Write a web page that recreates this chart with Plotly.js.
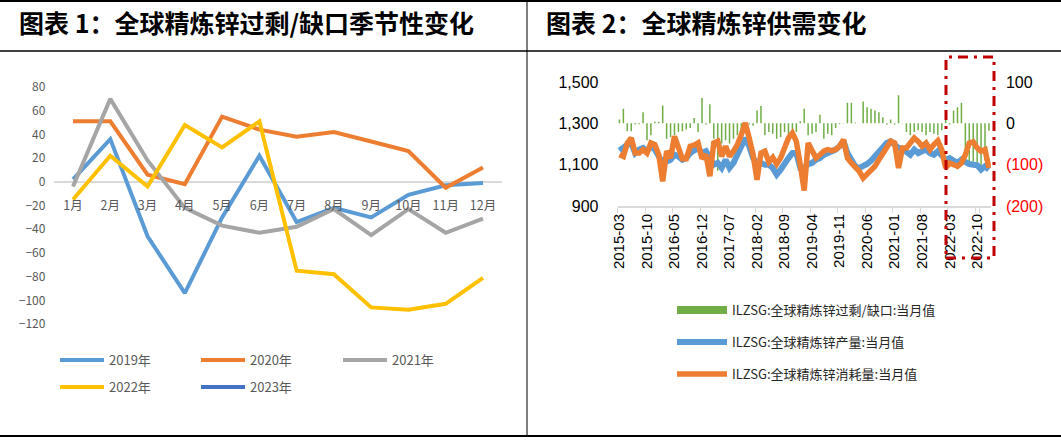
<!DOCTYPE html>
<html>
<head>
<meta charset="utf-8">
<script src="https://cdn.plot.ly/plotly-3.0.1.min.js"></script>
<style>html,body{margin:0;padding:0;background:#fff}</style>
</head>
<body>
<div id="chart" style="width:1061px;height:440px"></div>
<script>
// ---------- Chart 1: monthly surplus/deficit by year ----------
const months = ['1月','2月','3月','4月','5月','6月','7月','8月','9月','10月','11月','12月'];
const y2019 = [2, 36, -46, -94, -30, 22, -34, -22, -30, -11, -3, -1];
const y2020 = [51, 51, 6, -2, 55, 44, 38, 42, 34, 26, -5, 12];
const y2021 = [-4, 70, 18, -22, -37, -43, -38, -23, -45, -23, -43, -31];
const y2022 = [-15, 22, -4, 48, 29, 51, -75, -78, -106, -108, -103, -81];
const y2023 = [null, null, null, null, null, null, null, null, null, null, null, null];
const seasonNames = ['2019年','2020年','2021年','2022年','2023年'];
const seasonColors = ['#5B9BD5','#ED7D31','#A5A5A5','#FFC000','#4472C4'];

// ---------- Chart 2: monthly supply / demand ----------
const periods = [
  '2015-03','2015-04','2015-05','2015-06','2015-07','2015-08','2015-09','2015-10','2015-11','2015-12',
  '2016-01','2016-02','2016-03','2016-04','2016-05','2016-06','2016-07','2016-08','2016-09','2016-10','2016-11','2016-12',
  '2017-01','2017-02','2017-03','2017-04','2017-05','2017-06','2017-07','2017-08','2017-09','2017-10','2017-11','2017-12',
  '2018-01','2018-02','2018-03','2018-04','2018-05','2018-06','2018-07','2018-08','2018-09','2018-10','2018-11','2018-12',
  '2019-01','2019-02','2019-03','2019-04','2019-05','2019-06','2019-07','2019-08','2019-09','2019-10','2019-11','2019-12',
  '2020-01','2020-02','2020-03','2020-04','2020-05','2020-06','2020-07','2020-08','2020-09','2020-10','2020-11','2020-12',
  '2021-01','2021-02','2021-03','2021-04','2021-05','2021-06','2021-07','2021-08','2021-09','2021-10','2021-11','2021-12',
  '2022-01','2022-02','2022-03','2022-04','2022-05','2022-06','2022-07','2022-08','2022-09','2022-10','2022-11','2022-12',
  '2023-01'
];
const balance = [
  9, 35, -19, -19, -3, -2, 27, -41, -29, 4,
  4, 43, -37, -33, -29, -21, -19, -15, -11, 13, -21, 61,
  -3, 46, -37, -115, -49, -41, -49, -37, -29, -21, -2, -3,
  -6, 31, 42, -29, -21, -25, -37, -33, -21, -37, -25, -21,
  5, 35, -29, -25, -21, 21, -37, -25, -29, -11, -2, 1,
  50, 50, 2, 0, 53, 39, 35, 31, 27, 15, -3, 9,
  -3, 68, 1, -21, -29, -21, -17, -21, -29, -21, -25, -29,
  -17, 19, -3, 31, 39, 50, -85, -102, -94, -98, -102, -90,
  -18
];
const production = [
  1168, 1184, 1197, 1205, 1156, 1173, 1181, 1165, 1189, 1173,
  1140, 1108, 1116, 1124, 1148, 1140, 1124, 1132, 1156, 1165, 1181, 1156,
  1165, 1132, 1100, 1108, 1084, 1124, 1084, 1108, 1148, 1189, 1229, 1189,
  1132, 1108, 1108, 1100, 1100, 1084, 1052, 1076, 1108, 1132, 1156, 1156,
  1084, 1084, 1103, 1108, 1124, 1132, 1148, 1156, 1165, 1173, 1189, 1213,
  1156, 1116, 1092, 1084, 1092, 1103, 1119, 1140, 1156, 1177, 1205, 1213,
  1197, 1181, 1177, 1165, 1148, 1173, 1156, 1165, 1173, 1156, 1148, 1165,
  1148, 1124, 1132, 1116, 1108, 1124, 1113, 1103, 1100, 1097, 1076, 1092,
  1076
];
const consumption = [
  1148, 1140, 1205, 1229, 1156, 1156, 1173, 1156, 1205, 1197,
  1148, 1019, 1165, 1132, 1237, 1189, 1129, 1129, 1189, 1194, 1205, 1129,
  1148, 1044, 1205, 1213, 1140, 1189, 1140, 1165, 1197, 1245, 1302, 1229,
  1148, 1027, 1156, 1165, 1113, 1135, 1103, 1132, 1181, 1229, 1253, 1213,
  1100, 975, 1205, 1165, 1132, 1148, 1165, 1173, 1168, 1173, 1189, 1221,
  1132, 1108, 1092, 1068, 1035, 1055, 1071, 1092, 1124, 1156, 1184, 1213,
  1205, 1084, 1181, 1181, 1205, 1229, 1213, 1189, 1205, 1173, 1197, 1216,
  1173, 1084, 1108, 1100, 1092, 1108, 1148, 1205, 1210, 1181, 1165, 1173,
  1084
];
const periodTicks = ['2015-03','2015-10','2016-05','2016-12','2017-07','2018-02','2018-09',
                     '2019-04','2019-11','2020-06','2021-01','2021-08','2022-03','2022-10'];
const balanceTickVals = [-200, -100, 0, 100];
const balanceTickText = ['<span style="color:#FF0000">(200)</span>', '<span style="color:#FF0000">(100)</span>', '0', '100'];
const seriesNames = ['ILZSG:全球精炼锌过剩/缺口:当月值', 'ILZSG:全球精炼锌产量:当月值', 'ILZSG:全球精炼锌消耗量:当月值'];

// ---------- page geometry (pixels -> paper fractions) ----------
const W = 1061, H = 440;
const px = X => X / W;
const py = Y => 1 - Y / H;

const CJK = '"Noto Sans CJK SC", "Noto Sans", sans-serif';
const LAT = '"Liberation Sans", Arial, sans-serif';

const traces = [];
const seasonSeries = [y2019, y2020, y2021, y2022, y2023];
seasonSeries.forEach((ys, i) => {
  traces.push({
    type: 'scatter', mode: 'lines', x: months, y: ys,
    xaxis: 'x', yaxis: 'y', name: seasonNames[i],
    line: { color: seasonColors[i], width: 4 },
    legend: i === 0 ? 'legend' : 'legend' + (i + 1),
    hoverinfo: 'skip'
  });
});

// balance bars sit on the base (right-hand) axis so the lines overlay them
traces.push({
  type: 'bar', x: periods, y: balance, xaxis: 'x2', yaxis: 'y2',
  marker: { color: '#70AD47', line: { width: 0 } }, width: 0.38,
  showlegend: false, name: seriesNames[0], hoverinfo: 'skip'
});
traces.push({
  type: 'scatter', mode: 'lines', x: [null], y: [null], xaxis: 'x2', yaxis: 'y2',
  name: seriesNames[0], line: { color: '#70AD47', width: 8 }, legend: 'legend6', hoverinfo: 'skip'
});
traces.push({
  type: 'scatter', mode: 'lines', x: periods, y: production, xaxis: 'x2', yaxis: 'y3',
  name: seriesNames[1], line: { color: '#5B9BD5', width: 6 }, legend: 'legend7', hoverinfo: 'skip'
});
traces.push({
  type: 'scatter', mode: 'lines', x: periods, y: consumption, xaxis: 'x2', yaxis: 'y3',
  name: seriesNames[2], line: { color: '#ED7D31', width: 5.5 }, legend: 'legend8', hoverinfo: 'skip'
});

// left panel vertical span: 80 at y=87px, -120 at y=324px
const yTop = 87, yBot = 324;
const zeroY = yTop + (yBot - yTop) * 80 / 200;

function leftLegend(X, Y) {
  return { x: px(X), y: py(Y), xanchor: 'left', yanchor: 'middle', orientation: 'h',
           bgcolor: 'rgba(0,0,0,0)', borderwidth: 0, itemwidth: 44,
           font: { family: CJK, size: 13, color: '#595959' } };
}
function rightLegend(X, Y) {
  return { x: px(X), y: py(Y), xanchor: 'left', yanchor: 'middle', orientation: 'h',
           bgcolor: 'rgba(0,0,0,0)', borderwidth: 0, itemwidth: 50,
           font: { family: CJK, size: 13, color: '#262626' } };
}

const frame = { color: '#000000', width: 2 };
const layout = {
  width: W, height: H,
  margin: { l: 0, r: 0, t: 0, b: 0, pad: 0 },
  paper_bgcolor: '#ffffff', plot_bgcolor: 'rgba(0,0,0,0)',
  showlegend: true,
  font: { family: CJK, color: '#595959' },
  xaxis: {
    domain: [px(54.4), px(501.6)], anchor: 'free', position: py(zeroY),
    type: 'category', range: [-0.5, 11.5], showgrid: false, zeroline: false,
    showline: false, ticks: '', ticklabelstandoff: 15,
    tickfont: { family: CJK, size: 12.5, color: '#595959' }, fixedrange: true
  },
  yaxis: {
    domain: [py(yBot), py(yTop)], anchor: 'x', range: [-120, 80], dtick: 20, tick0: 0,
    showgrid: false, zeroline: true, zerolinecolor: '#D9D9D9', zerolinewidth: 2,
    showline: false, ticks: '', ticklabelstandoff: 8,
    tickfont: { family: CJK, size: 12, color: '#595959' }, fixedrange: true
  },
  xaxis2: {
    domain: [px(617.5), px(990.9)], anchor: 'y2', type: 'category',
    categoryorder: 'array', categoryarray: periods, range: [-0.5, periods.length - 0.5],
    tickmode: 'array', tickvals: periodTicks, tickangle: -90, tickson: 'boundaries',
    ticks: 'outside', ticklen: 5, tickcolor: '#D9D9D9', tickwidth: 1,
    showline: true, linecolor: '#D9D9D9', linewidth: 2, showgrid: false, zeroline: false,
    tickfont: { family: LAT, size: 15, color: '#000000' }, fixedrange: true
  },
  yaxis2: {
    domain: [py(206), py(82)], anchor: 'x2', side: 'right', range: [-200, 100],
    tickmode: 'array', tickvals: balanceTickVals, ticktext: balanceTickText,
    showgrid: false, zeroline: false, showline: false, ticks: '', ticklabelstandoff: 14,
    tickfont: { family: LAT, size: 16, color: '#000000' }, fixedrange: true
  },
  yaxis3: {
    overlaying: 'y2', anchor: 'x2', side: 'left', range: [900, 1500], dtick: 200, tick0: 900,
    tickformat: ',', showgrid: false, zeroline: false, showline: false, ticks: '',
    ticklabelstandoff: 18,
    tickfont: { family: LAT, size: 16, color: '#000000' }, fixedrange: true
  },
  legend: leftLegend(55, 360),
  legend2: leftLegend(196, 360),
  legend3: leftLegend(338, 360),
  legend4: leftLegend(55, 387),
  legend5: leftLegend(196, 387),
  legend6: rightLegend(672, 310),
  legend7: rightLegend(672, 342),
  legend8: rightLegend(672, 374),
  annotations: [
    { text: '图表 1：全球精炼锌过剩/缺口季节性变化', xref: 'paper', yref: 'paper',
      x: px(17), y: py(22), xanchor: 'left', yanchor: 'middle', showarrow: false,
      font: { family: CJK, size: 25, color: '#000000', weight: 700 } },
    { text: '图表 2：全球精炼锌供需变化', xref: 'paper', yref: 'paper',
      x: px(544), y: py(22), xanchor: 'left', yanchor: 'middle', showarrow: false,
      font: { family: CJK, size: 25, color: '#000000', weight: 700 } }
  ],
  shapes: [
    { type: 'line', xref: 'paper', yref: 'paper', x0: 0, x1: 1, y0: py(1), y1: py(1), line: frame },
    { type: 'line', xref: 'paper', yref: 'paper', x0: 0, x1: 1, y0: py(51), y1: py(51), line: { color: '#000', width: 1.5 } },
    { type: 'line', xref: 'paper', yref: 'paper', x0: 0, x1: 1, y0: py(436), y1: py(436), line: frame },
    { type: 'line', xref: 'paper', yref: 'paper', x0: px(527), x1: px(527), y0: py(0), y1: py(436), line: { color: '#000', width: 1 } },
    { type: 'rect', xref: 'paper', yref: 'paper', x0: px(946), x1: px(994), y0: py(258), y1: py(57),
      line: { color: '#C00000', width: 3, dash: '10px,6px,3px,6px' }, fillcolor: 'rgba(0,0,0,0)' }
  ]
};

Plotly.newPlot('chart', traces, layout, { staticPlot: true, displayModeBar: false });
</script>
</body>
</html>
